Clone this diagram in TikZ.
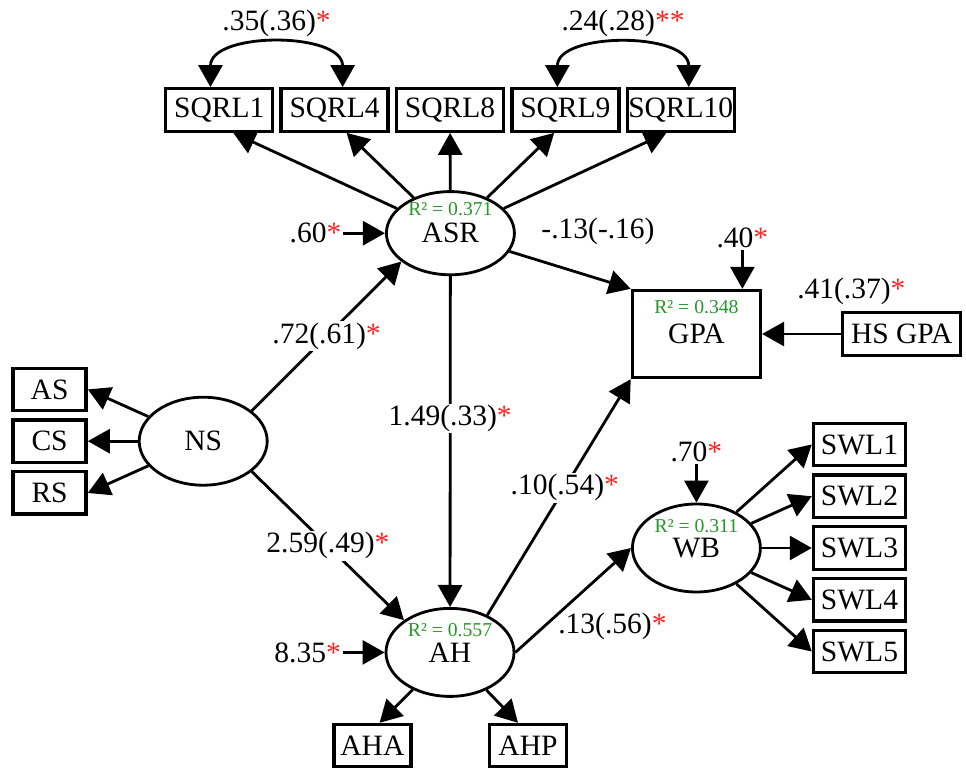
\documentclass[tikz,border=0pt]{standalone}
\usepackage{fontspec}
\setmainfont{Liberation Serif}
\usepackage{xcolor}
\usetikzlibrary{arrows.meta, positioning, shapes.geometric}

\definecolor{rsqgreen}{RGB}{40,150,40}
\definecolor{sigred}{RGB}{255,35,35}
\newcommand{\sigstar}{\textcolor{sigred}{*}}

\begin{document}
\begin{tikzpicture}[
    font=\fontsize{21}{25}\selectfont,
    >={Triangle[length=0.55cm,width=0.6cm]},
    latent/.style={
        ellipse,
        draw=black,
        line width=2pt,
        inner sep=0pt,
        minimum width=3.2cm,
        minimum height=2.2cm
    },
    obs/.style={
        rectangle,
        draw=black,
        line width=2.4pt,
        inner sep=0.5pt,
        minimum height=1.06cm
    },
    rsq/.style={font=\fontsize{14}{16}\selectfont, text=rsqgreen, inner sep=0pt},
    coef/.style={fill=white, inner sep=1pt},
    lbl/.style={inner sep=1pt},
    arrow/.style={->, line width=2pt},
    cov/.style={<->, line width=2pt}
]

\useasboundingbox (0,0) rectangle (24.15,-19.2);

% latent factors and outcome
\node[latent, minimum height=2.08cm] (asr) at (11.26,-5.83) {ASR};
\node[latent] (ah) at (11.25,-16.31) {AH};
\node[latent] (ns) at (5.08,-11.03) {NS};
\node[latent] (wb) at (17.41,-13.7) {WB};
\node[obs, minimum width=3.2cm, minimum height=2.175cm] (gpa) at (17.41,-8.35) {GPA};

\node[rsq] (r2asr) at ([yshift=0.6cm]asr.center) {R² = 0.371};
\node[rsq] (r2ah) at ([yshift=0.56cm]ah.center) {R² = 0.557};
\node[rsq] (r2wb) at ([yshift=0.56cm]wb.center) {R² = 0.311};
\node[rsq] (r2gpa) at ([yshift=0.67cm]gpa.center) {R² = 0.348};

% indicators
\node[obs, minimum width=2.675cm] (sqrl8) at (11.25,-2.75) {SQRL8};
\node[obs, minimum width=2.675cm, left=0.125cm of sqrl8] (sqrl4) {SQRL4};
\node[obs, minimum width=2.675cm, left=0.125cm of sqrl4] (sqrl1) {SQRL1};
\node[obs, minimum width=2.675cm, right=0.125cm of sqrl8] (sqrl9) {SQRL9};
\node[obs, minimum width=2.675cm, right=0.125cm of sqrl9] (sqrl10) {SQRL10};

\node[obs, minimum width=1.825cm, left=1.25cm of ns] (cs) {CS};
\node[obs, minimum width=1.825cm, above=0.15cm of cs] (as) {AS};
\node[obs, minimum width=1.825cm, below=0.15cm of cs] (rs) {RS};

\node[obs, minimum width=1.925cm, below=0.625cm of ah, xshift=-1.94cm] (aha) {AHA};
\node[obs, minimum width=1.925cm, below=0.625cm of ah, xshift=1.95cm] (ahp) {AHP};

\node[obs, minimum width=2.3cm, right=1.25cm of wb] (swl3) {SWL3};
\node[obs, minimum width=2.3cm, above=0.15cm of swl3] (swl2) {SWL2};
\node[obs, minimum width=2.3cm, above=0.15cm of swl2] (swl1) {SWL1};
\node[obs, minimum width=2.3cm, below=0.15cm of swl3] (swl4) {SWL4};
\node[obs, minimum width=2.3cm, below=0.15cm of swl4] (swl5) {SWL5};

\node[obs, minimum width=2.95cm, right=1.975cm of gpa] (hsgpa) {HS GPA};

% residual variances
\node[lbl, left=1.05cm of asr] (easr) {.60\sigstar};
\node[lbl, left=1.05cm of ah] (eah) {8.35\sigstar};
\node[lbl, above=0.97cm of gpa.north, xshift=1.15cm] (egpa) {.40\sigstar};
\node[lbl, above=0.97cm of wb] (ewb) {.70\sigstar};

% free labels
\node[lbl, above=0.12cm of hsgpa.north, xshift=-1.26cm] (lhs) {.41(.37)\sigstar};
\node[lbl] (lasr) at (14.95,-5.78) {-.13(-.16)};
\node[lbl] (lwb) at (15.31,-15.67) {.13(.56)\sigstar};

% loadings
\draw[arrow] (asr) -- ([xshift=0.35cm]sqrl1.south);
\draw[arrow] (asr) -- ([xshift=0.3cm]sqrl4.south);
\draw[arrow] (asr) -- (sqrl8);
\draw[arrow] (asr) -- ([xshift=-0.28cm]sqrl9.south);
\draw[arrow] (asr) -- ([xshift=-0.36cm]sqrl10.south);

\draw[arrow] (ns) -- (as.east);
\draw[arrow] (ns) -- (cs);
\draw[arrow] (ns) -- (rs.east);

\draw[arrow] (ah) -- ([xshift=0.18cm]aha.north);
\draw[arrow] (ah) -- ([xshift=-0.25cm]ahp.north);

\foreach \i in {1,...,5}
    \draw[arrow] (wb) -- (swl\i.west);

% error covariances
\draw[cov] ([xshift=-0.22cm]sqrl1.north) to[out=90, in=90, looseness=1.08]
    node[lbl, above=0.15cm] (c14) {.35(.36)\sigstar} ([xshift=0.2cm]sqrl4.north);
\draw[cov] ([xshift=-0.2cm]sqrl9.north) to[out=90, in=90, looseness=1.08]
    node[lbl, above=0.15cm] (c910) {.24(.28)\sigstar\sigstar} ([xshift=0.2cm]sqrl10.north);

% structural paths
\draw[arrow] (easr) -- (asr);
\draw[arrow] (eah) -- (ah);
\draw[arrow] (egpa) -- (egpa |- gpa.north);
\draw[arrow] (ewb) -- (wb);
\draw[arrow] (hsgpa) -- (gpa);

\draw[arrow] (ns.32) -- node[coef] {.72(.61)\sigstar} (asr.210);
\draw[arrow] (ns.-32) -- node[coef] {2.59(.49)\sigstar} (ah.145);
\draw[arrow] (asr) -- node[coef, pos=0.43] {1.49(.33)\sigstar} (ah);
\draw[arrow] (asr) -- (gpa.north west);
\draw[arrow] (ah.45) -- node[coef, pos=0.54] {.10(.54)\sigstar} (gpa.south west);
\draw[arrow] (ah.east) -- (wb.west);

\end{tikzpicture}
\end{document}
